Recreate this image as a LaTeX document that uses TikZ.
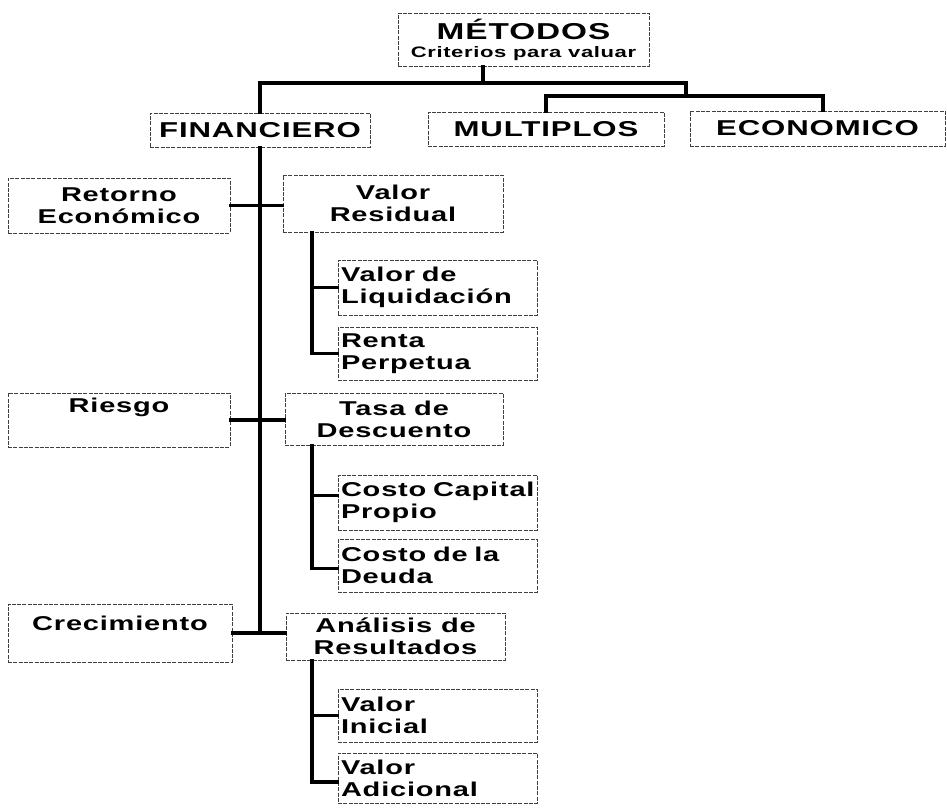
\documentclass[tikz,border=0pt]{standalone}
\usepackage{fontspec}
\usetikzlibrary{calc}
\newfontfamily\wf{Liberation Sans}[FakeStretch=1.45,LetterSpace=4]
\begin{document}
\begin{tikzpicture}[x=1pt,y=-1pt,
  bx/.style={draw=black!75, dash pattern=on 4pt off 1.3pt, line width=0.7pt,
    inner sep=0pt, font=\wf\bfseries\fontsize{20}{22}\selectfont},
  cbox/.style={bx, align=center},
  capbox/.style={cbox, font=\wf\bfseries\fontsize{21.5}{22}\selectfont},
  sbox/.style={bx, align=left, text width=193pt, minimum width=199pt},
  conn/.style={line width=3.4pt, line cap=rect}]
\useasboundingbox (0,0) rectangle (947,807);
% top level
\node[cbox, minimum width=251pt, minimum height=53pt] (met) at (523.5,39.5)
  {{\fontsize{23}{22}\selectfont MÉTODOS}\\[-4pt]{\fontsize{15.2}{18}\selectfont Criterios para valuar}};
\node[capbox, minimum width=220pt, minimum height=34pt] (fin) at (260,130) {FINANCIERO};
\node[capbox, minimum width=236pt, minimum height=34pt] (mul) at (546,129) {MULTIPLOS};
\node[capbox, minimum width=255pt, minimum height=35pt] (eco) at (817.5,128.5) {ECONOMICO};
% left column
\node[cbox, minimum width=222pt, minimum height=55pt] (ret) at (119,205.5) {Retorno\\Económico};
\node[cbox, minimum width=222pt, minimum height=54pt] (rie) at (119,420) {Riesgo\\\strut};
\node[cbox, minimum width=224pt, minimum height=58pt] (cre) at (120,633) {Crecimiento\\[-10pt]\strut};
% middle column
\node[cbox, minimum width=220pt, minimum height=57pt] (vr) at (393,203.5) {Valor\\Residual};
\node[cbox, minimum width=218pt, minimum height=52pt] (tas) at (394,419) {Tasa de\\Descuento};
\node[cbox, minimum width=219pt, minimum height=47pt] (ana) at (395.5,636.5) {Análisis de\\Resultados};
% sub boxes
\node[sbox, minimum height=55pt] (liq) at (437.5,287.5) {Valor de\\Liquidación};
\node[sbox, minimum height=53pt] (ren) at (437.5,353.5) {Renta\\Perpetua};
\node[sbox, minimum height=55pt] (ccp) at (437.5,502.5) {Costo Capital\\Propio};
\node[sbox, minimum height=53pt] (cdd) at (437.5,565.5) {Costo de la\\Deuda};
\node[sbox, minimum height=53pt] (vi) at (437.5,715.5) {Valor\\Inicial};
\node[sbox, minimum height=50pt] (va) at (437.5,778) {Valor\\Adicional};
% junction coordinates
\coordinate (j0) at (483,83);
\coordinate (j1) at (686,83);
\coordinate (j2) at (686,96);
\coordinate (sx) at (312,0);
\coordinate (ex) at (823,0);
% top connectors
\draw[conn] (met.south -| j0) -- (j0);
\draw[conn] (fin.north) |- (j1) -- (j2);
\draw[conn] (mul.north) -- (mul.north |- j2) -- (ex |- j2) -- (ex |- eco.north);
% trunk
\draw[conn] (fin.south) -- (fin.south |- cre.east);
\draw[conn] (ret.east) -- (ret.east -| vr.west);
\draw[conn] (rie.east) -- (rie.east -| tas.west);
\draw[conn] (cre.east) -- (cre.east -| ana.west);
% sub stems
\draw[conn] (vr.south -| sx) |- (ren.west);
\draw[conn] (liq.west -| sx) -- (liq.west);
\draw[conn] (tas.south -| sx) |- ($(cdd.west)+(0,3)$);
\draw[conn] ($(ccp.west -| sx)+(0,-7)$) -- ($(ccp.west)+(0,-7)$);
\draw[conn] (ana.south -| sx) |- ($(va.west)+(0,4)$);
\draw[conn] (vi.west -| sx) -- (vi.west);
\end{tikzpicture}
\end{document}
